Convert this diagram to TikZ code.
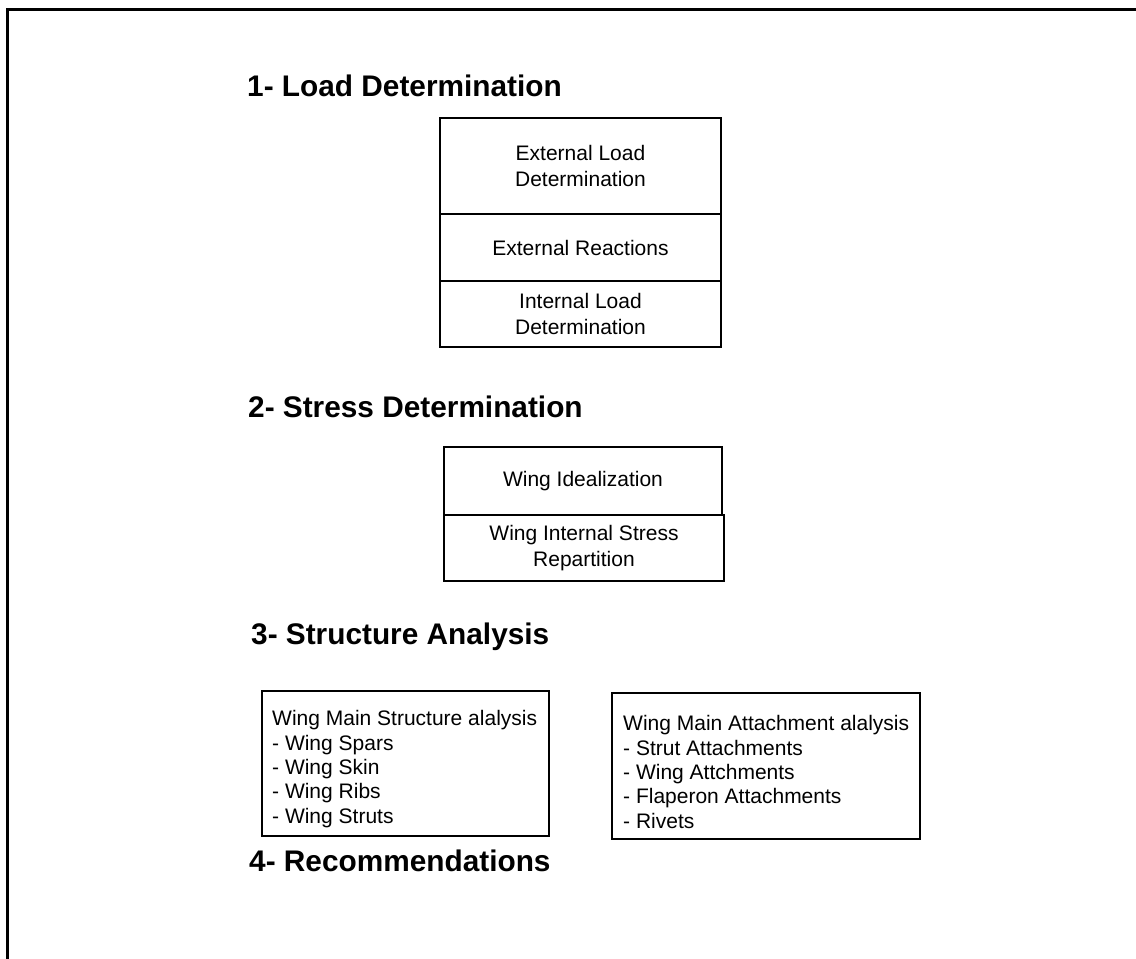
\documentclass[tikz,border=0pt]{standalone}
\usepackage{fontspec}
\setmainfont{Liberation Sans}
\begin{document}
\begin{tikzpicture}[x=1pt,y=-1pt,
  cell/.style={draw, line width=1.5pt, inner sep=0pt, align=center, font=\fontsize{21}{25.5}\selectfont},
  listbox/.style={draw, line width=1.5pt, inner sep=0pt},
  listtext/.style={anchor=north west, inner sep=0pt, align=left, font=\fontsize{21}{24.3}\selectfont},
  heading/.style={anchor=base west, inner sep=0pt, font=\fontsize{29.8}{34}\selectfont\bfseries},
  frame/.style={line width=3pt}]
\path[use as bounding box] (0,0) rectangle (1136,959);
\coordinate (fr1) at (1140,9.5);
\coordinate (fr2) at (7.5,9.5);
\coordinate (fr3) at (7.5,963);
\draw[frame] (fr1) -- (fr2) -- (fr3);
% headings
\node[heading] (h1) at (247,96) {1- Load Determination};
\node[heading] (h2) at (248,417) {2- Stress Determination};
\node[heading] (h3) at (251,644) {3- Structure Analysis};
\node[heading] (h4) at (249,871) {4- Recommendations};
% load determination stack
\node[cell, minimum width=281pt, minimum height=96pt] (c1) at (580.5,166) {External Load\\Determination};
\node[cell, minimum width=281pt, minimum height=67pt] (c2) at (580.5,247.5) {External Reactions};
\node[cell, minimum width=281pt, minimum height=66pt] (c3) at (580.5,314) {Internal Load\\Determination};
% stress determination stack
\node[cell, minimum width=278pt, minimum height=68pt] (d1) at (583,481) {Wing Idealization};
\node[cell, minimum width=280pt, minimum height=66pt] (d2) at (584,548) {Wing Internal Stress\\Repartition};
% structure analysis boxes
\node[listbox, minimum width=287pt, minimum height=145pt] (s1) at (405.5,763.5) {};
\node[listtext] (s1t) at (272,710.5)
  {Wing Main Structure alalysis\\- Wing Spars\\- Wing Skin\\- Wing Ribs\\- Wing Struts};
\node[listbox, minimum width=308pt, minimum height=146pt] (s2) at (766,766) {};
\node[listtext] (s2t) at (623,715.5)
  {Wing Main Attachment alalysis\\- Strut Attachments\\- Wing Attchments\\- Flaperon Attachments\\- Rivets};
\end{tikzpicture}
\end{document}
